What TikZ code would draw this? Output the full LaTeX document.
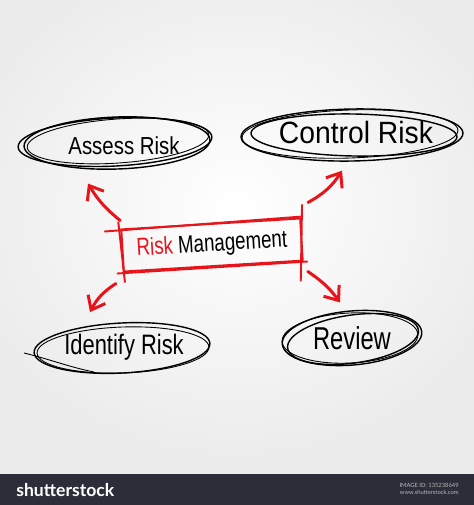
\documentclass[tikz,border=0pt]{standalone}
\usepackage{fontspec}
\setmainfont{Liberation Sans}
\newfontfamily\barfont{Lato}
\usetikzlibrary{arrows.meta,shapes.geometric,calc,shadings}
\definecolor{sred}{HTML}{E8141C}
\definecolor{barbg}{HTML}{2B2E38}
\begin{document}
\begin{tikzpicture}[x=0.02cm,y=-0.02cm,
  sketch/.style={black, line width=0.8pt},
  thinsketch/.style={black, line width=0.5pt},
  lbl/.style={ellipse, inner sep=0pt, text=black},
  redline/.style={sred, line width=1.1pt},
  redarr/.style={sred, line width=1.7pt, line cap=round,
    -{Straight Barb[length=7pt,width=11pt,line width=1.7pt]}},
]
\useasboundingbox (0,0) rectangle (474,505);
\shade[inner color=white, outer color=gray!16] (-60,-60) rectangle (534,474);
\fill[barbg] (0,474) rectangle (474,505);

% ---- labels ----
\node[lbl, minimum width=100pt, minimum height=23pt] (ar) at (124,146)
  {\fontsize{14}{14}\selectfont\scalebox{0.83}[1]{Assess Risk}};
\node[lbl, minimum width=120pt, minimum height=30pt] (cr) at (356,133)
  {\fontsize{17.5}{17.5}\selectfont\scalebox{0.92}[1]{Control Risk}};
\node[lbl, minimum width=100pt, minimum height=29pt] (ir) at (124,347)
  {\fontsize{16}{16}\selectfont\scalebox{0.78}[1]{Identify Risk}};
\node[lbl, minimum width=80pt, minimum height=31pt] (rv) at (352,338)
  {\fontsize{18}{18}\selectfont\scalebox{0.75}[1]{Review}};
\node[draw=sred, line width=1.1pt, rotate=3.5, minimum width=102pt,
  minimum height=24pt, inner sep=0pt] (rm) at (212,245)
  {\fontsize{14}{14}\selectfont\scalebox{0.76}[1]{\textcolor{sred}{Risk} Management}};

% ---- sketchy ellipses ----
% Assess Risk
\draw[sketch, shift={($(ar.center)+(-9,-4)$)}, rotate=3] (0,0) ellipse [x radius=97, y radius=24];
\draw[sketch, shift={($(ar.center)+(-7,-3)$)}, rotate=2] (0,0) ellipse [x radius=93, y radius=26];
\draw[thinsketch, shift={($(ar.center)+(-6,-5)$)}, rotate=4] (0,0) ellipse [x radius=91, y radius=22];
% Control Risk
\draw[sketch, shift={($(cr.center)+(-4,2)$)}, rotate=1] (0,0) ellipse [x radius=111, y radius=26];
\draw[sketch, shift={($(cr.center)+(-2,2)$)}, rotate=-1] (0,0) ellipse [x radius=103, y radius=21];
\draw[thinsketch, shift={($(cr.center)+(-6,1)$)}, rotate=2] (0,0) ellipse [x radius=108, y radius=24];
% Identify Risk
\draw[sketch, shift={($(ir.center)+(-2,1)$)}, rotate=3] (0,0) ellipse [x radius=88, y radius=25];
\draw[thinsketch, shift={($(ir.center)+(-1,3)$)}, rotate=2] (0,0) ellipse [x radius=86, y radius=23];
\draw[thinsketch] ($(ir.center)+(-100,6)$) .. controls ($(ir.center)+(-75,12)$) and ($(ir.center)+(-55,20)$) .. ($(ir.center)+(-30,25)$);
% Review
\draw[sketch, shift={(rv.center)}, rotate=5] (0,0) ellipse [x radius=70, y radius=27];
\draw[sketch, shift={($(rv.center)+(1,1)$)}, rotate=8] (0,0) ellipse [x radius=66, y radius=24];
\draw[thinsketch, shift={($(rv.center)+(-2,0)$)}, rotate=3] (0,0) ellipse [x radius=68, y radius=25];

% ---- sketchy rectangle strokes ----
\draw[redline] ([shift={(-16,3)}]rm.north west) -- ([shift={(2,-1)}]rm.north east);
\draw[redline] ([shift={(-2,-7)}]rm.north west) -- ([shift={(2,10)}]rm.south west);
\draw[redline] ([shift={(1,-13)}]rm.north east) -- ([shift={(-3,20)}]rm.south east);
\draw[redline] ([shift={(-6,1)}]rm.south west) -- ([shift={(4,0)}]rm.south east);

% ---- red arrows ----
\draw[redarr] ([shift={(0,-8)}]rm.north west) to[bend left=10] ([shift={(-36,17)}]ar.south);
\draw[redarr] ([shift={(7,-15)}]rm.north east) to[bend right=14] ([shift={(-14,11)}]cr.south);
\draw[redarr] ([shift={(-7,11)}]rm.south west) to[bend right=15] ([shift={(-34,-9)}]ir.north);
\draw[redarr] ([shift={(4,10)}]rm.south east) to[bend left=10] ([shift={(-12,-8)}]rv.north);

% ---- bottom bar ----
\node[font=\barfont\bfseries\fontsize{10}{10}\selectfont, text=white, anchor=west, inner sep=0pt] (ss) at (16,490) {shutterstock};
\node[font=\barfont\fontsize{3.3}{4}\selectfont, text=gray!55, align=right, anchor=east, inner sep=0pt] (imgid) at (459,489) {IMAGE ID: 135238649\\www.shutterstock.com};
\end{tikzpicture}
\end{document}
